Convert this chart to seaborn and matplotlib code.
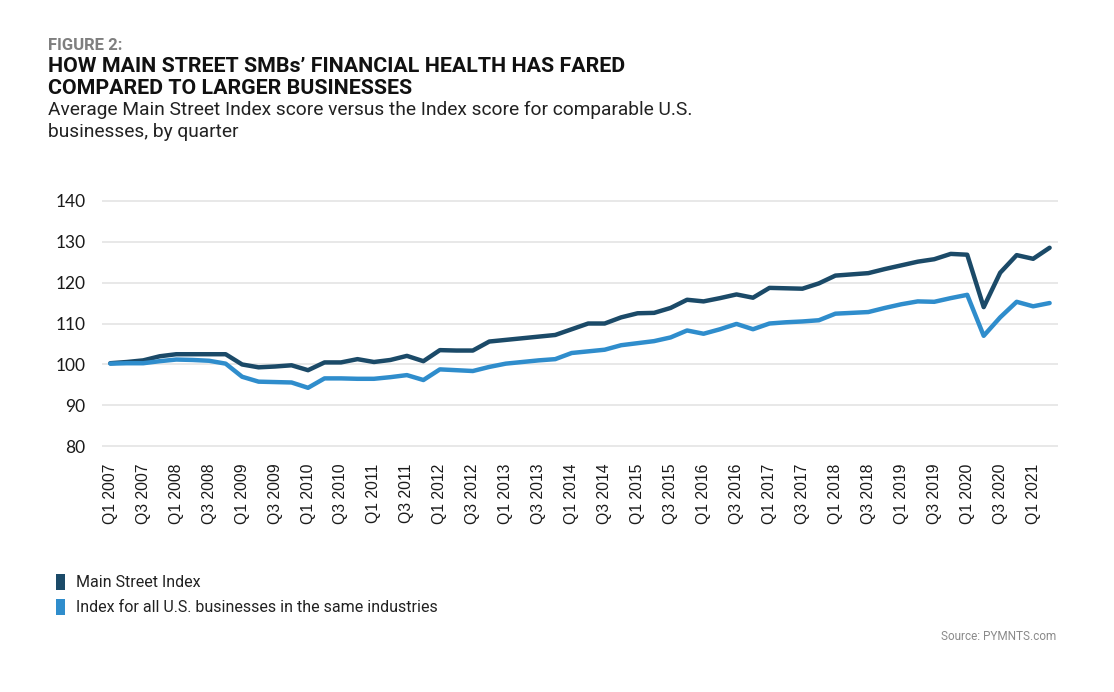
import pandas as pd
import matplotlib.pyplot as plt
import seaborn as sns
from matplotlib.patches import Patch

# quarters Q1 2007 .. Q2 2021
quarters = [f"Q{q} {y}" for y in range(2007, 2022) for q in range(1, 5)][:58]

main_street = [100.3, 100.6, 101.0, 102.0, 102.5, 102.5, 102.5, 102.5,
               100.0, 99.3, 99.5, 99.8, 98.6, 100.5, 100.5, 101.3,
               100.6, 101.1, 102.1, 100.8, 103.5, 103.4, 103.4, 105.6,
               106.0, 106.4, 106.8, 107.2, 108.6, 110.0, 110.0, 111.5,
               112.5, 112.6, 113.8, 115.8, 115.4, 116.2, 117.1, 116.3,
               118.7, 118.6, 118.5, 119.8, 121.7, 122.0, 122.3, 123.3,
               124.2, 125.1, 125.7, 127.0, 126.8, 114.0, 122.4, 126.7,
               125.8, 128.5]

all_us = [100.2, 100.3, 100.3, 100.8, 101.2, 101.1, 100.9, 100.2,
          97.0, 95.8, 95.7, 95.6, 94.3, 96.6, 96.6, 96.5,
          96.5, 96.9, 97.4, 96.2, 98.8, 98.6, 98.4, 99.4,
          100.2, 100.6, 101.0, 101.3, 102.8, 103.2, 103.6, 104.7,
          105.2, 105.7, 106.6, 108.3, 107.5, 108.6, 109.9, 108.6,
          110.0, 110.3, 110.5, 110.8, 112.4, 112.6, 112.8, 113.8,
          114.7, 115.4, 115.3, 116.2, 117.0, 107.0, 111.5, 115.3,
          114.2, 115.0]

series_names = ["Main Street Index", "Index for all U.S. businesses in the same industries"]
colors = ["#1b4a68", "#2f8dcc"]

df = pd.DataFrame({
    "idx": list(range(len(quarters))) * 2,
    "value": main_street + all_us,
    "series": [series_names[0]] * len(quarters) + [series_names[1]] * len(quarters),
})

sns.set_style("white")
plt.rcParams['font.family'] = ['Liberation Sans', 'DejaVu Sans']

fig = plt.figure(figsize=(11.14, 6.92), dpi=100)
ax = fig.add_axes([0.0916, 0.352, 0.858, 0.361])

sns.lineplot(data=df, x="idx", y="value", hue="series", palette=colors,
             linewidth=3.2, ax=ax, legend=False)

ax.set_xlim(-0.5, 57.5)
ax.set_ylim(79.5, 140.5)
ax.set_yticks(range(80, 141, 10))
ax.set_yticklabels([str(v) for v in range(80, 141, 10)], fontsize=12.5,
                   family=['Lato', 'DejaVu Sans'], color='#1a1a1a')
ax.set_xticks(range(0, len(quarters), 2))
ax.set_xticklabels(quarters[::2], rotation=90, fontsize=11.3, color='#1a1a1a')
ax.tick_params(axis='both', length=0)
ax.tick_params(axis='x', pad=11)
ax.tick_params(axis='y', pad=12)
ax.grid(axis='y', color='#e8e8e8', linewidth=1.4)
ax.set_axisbelow(True)
for s in ax.spines.values():
    s.set_visible(False)
ax.set_xlabel("")
ax.set_ylabel("")

head = ['Roboto', 'DejaVu Sans']
fig.text(0.043, 1 - 45 / 692, "FIGURE 2:", fontsize=12, fontweight='bold',
         color='#7f7f7f', family=head, va='center')
fig.text(0.043, 1 - 66 / 692, "HOW MAIN STREET SMBs’ FINANCIAL HEALTH HAS FARED",
         fontsize=15.4, fontweight='bold', color='#111111', family=head, va='center')
fig.text(0.043, 1 - 88 / 692, "COMPARED TO LARGER BUSINESSES",
         fontsize=15.4, fontweight='bold', color='#111111', family=head, va='center')
fig.text(0.043, 1 - 110 / 692,
         "Average Main Street Index score versus the Index score for comparable U.S.",
         fontsize=13.8, color='#222222', family=head, va='center')
fig.text(0.043, 1 - 132 / 692, "businesses, by quarter",
         fontsize=13.8, color='#222222', family=head, va='center')

handles = [Patch(facecolor=c, edgecolor='none') for c in colors]
leg = fig.legend(handles, series_names, loc='upper left',
                 bbox_to_anchor=(0.037, 1 - 560 / 692), frameon=False,
                 handlelength=0.6, handleheight=1.1, handletextpad=0.7,
                 labelspacing=0.55, prop={'family': head, 'size': 11.5})
for t in leg.get_texts():
    t.set_color('#222222')

fig.text(0.948, 1 - 637 / 692, "Source: PYMNTS.com", fontsize=8.5,
         color='#8a8a8a', family=head, ha='right', va='center')

fig.savefig("out.png", dpi=100)
